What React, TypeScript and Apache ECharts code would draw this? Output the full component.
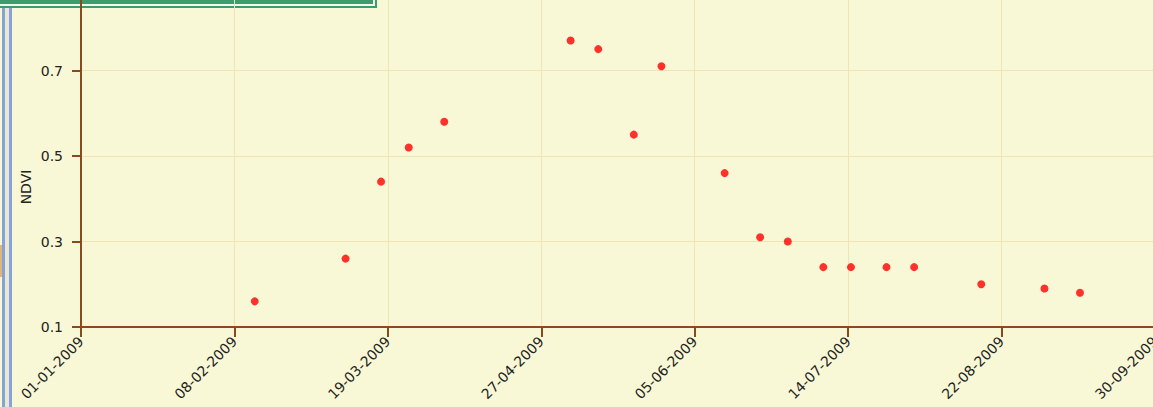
import React, { useEffect, useRef } from "react";
import * as echarts from "echarts";

const obsDates = [
  "14-02-2009", "09-03-2009", "18-03-2009", "25-03-2009", "03-04-2009",
  "05-05-2009", "12-05-2009", "21-05-2009", "28-05-2009", "13-06-2009",
  "22-06-2009", "29-06-2009", "08-07-2009", "15-07-2009", "24-07-2009",
  "31-07-2009", "17-08-2009", "02-09-2009", "11-09-2009",
];
const ndviValues = [
  0.16, 0.26, 0.44, 0.52, 0.58,
  0.77, 0.75, 0.55, 0.71, 0.46,
  0.31, 0.30, 0.24, 0.24, 0.24,
  0.24, 0.20, 0.19, 0.18,
];
// x-axis range (start / end date) and number of tick intervals
const axisStart = "01-01-2009";
const axisEnd = "30-09-2009";
const xTickCount = 7;
// y-axis range and tick step
const yMin = 0.1;
const yMax = 0.9;
const yStep = 0.2;

const DAY = 86400000;
function parseDate(s: string): number {
  const [d, m, y] = s.split("-").map(Number);
  return Date.UTC(y, m - 1, d);
}
const t0 = parseDate(axisStart);
const toDay = (s: string) => Math.round((parseDate(s) - t0) / DAY);
const pad = (n: number) => (n < 10 ? "0" + n : "" + n);
function dayLabel(v: number): string {
  const dt = new Date(t0 + Math.floor(v + 1e-6) * DAY);
  return pad(dt.getUTCDate()) + "-" + pad(dt.getUTCMonth() + 1) + "-" + dt.getUTCFullYear();
}

export default function App() {
  const ref = useRef<HTMLDivElement>(null);
  useEffect(() => {
    document.body.style.margin = "0";
    if (!ref.current) return;
    const chart = echarts.init(ref.current, null, { renderer: "svg" });
    const endDay = toDay(axisEnd);
    const data = obsDates.map((d, i) => [toDay(d), ndviValues[i]]);
    const brown = "#8a4a1c";
    const gridCol = "#f0e3b4";
    chart.setOption({
      animation: false,
      backgroundColor: "#f8f7d6",
      grid: {
        left: 81, right: -2, top: -15, bottom: 80,
        containLabel: false, outerBoundsMode: "none",
      },
      xAxis: {
        type: "value",
        min: 0,
        max: endDay,
        interval: endDay / xTickCount,
        axisLine: { show: true, onZero: false, lineStyle: { color: brown, width: 2 } },
        axisTick: { show: true, length: 10, lineStyle: { color: brown, width: 2 } },
        axisLabel: {
          rotate: 45,
          margin: 12,
          fontSize: 14,
          fontFamily: "DejaVu Sans",
          color: "#222",
          formatter: (v: number) => dayLabel(v),
          showMaxLabel: true,
          showMinLabel: true,
        },
        splitLine: { show: true, lineStyle: { color: gridCol, width: 1 } },
      },
      yAxis: {
        type: "value",
        min: yMin,
        max: yMax,
        interval: yStep,
        axisLine: { show: true, onZero: false, lineStyle: { color: brown, width: 2 } },
        axisTick: { show: true, length: 9, lineStyle: { color: brown, width: 2 } },
        axisLabel: {
          margin: 18,
          fontSize: 14,
          fontFamily: "DejaVu Sans",
          color: "#222",
          showMaxLabel: false,
          formatter: (v: number) => v.toFixed(1),
        },
        splitLine: { show: true, lineStyle: { color: gridCol, width: 1 } },
      },
      graphic: [
        { type: "rect", shape: { x: 0, y: 245, width: 2, height: 32 }, style: { fill: "#e2b47a" }, silent: true },
        { type: "rect", shape: { x: 5, y: 0, width: 4, height: 407 }, style: { fill: "#ece7cf" }, silent: true },
        { type: "rect", shape: { x: 2, y: 0, width: 3, height: 407 }, style: { fill: "#86a2dc" }, silent: true },
        { type: "rect", shape: { x: 9, y: 0, width: 3, height: 407 }, style: { fill: "#86a2dc" }, silent: true },
        { type: "rect", shape: { x: 0, y: 0, width: 377, height: 8 }, style: { fill: "#f4f8ee" }, silent: true },
        { type: "rect", shape: { x: 0, y: 0, width: 373, height: 4 }, style: { fill: "#3d9c6c" }, silent: true },
        { type: "rect", shape: { x: 0, y: 6, width: 377, height: 2 }, style: { fill: "#3d9c6c" }, silent: true },
        { type: "rect", shape: { x: 375, y: 0, width: 2, height: 8 }, style: { fill: "#3d9c6c" }, silent: true },
        {
          type: "text",
          x: 26,
          y: 187,
          rotation: Math.PI / 2,
          style: {
            text: "NDVI",
            fontSize: 14,
            fontFamily: "DejaVu Sans",
            fill: "#222",
            align: "center",
            verticalAlign: "middle",
          },
        },
      ],
      series: [
        {
          type: "scatter",
          data,
          symbol: "circle",
          symbolSize: 8,
          itemStyle: { color: "#ff0000" },
        },
      ],
    });
    return () => chart.dispose();
  }, []);
  return (
    <div
      ref={ref}
      style={{ position: "fixed", left: 0, top: 0, width: 1153, height: 407 }}
    />
  );
}
